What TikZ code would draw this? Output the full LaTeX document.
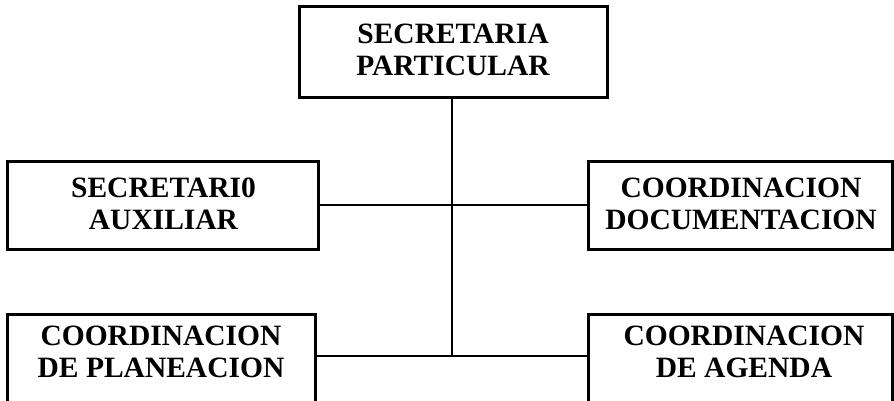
\documentclass[tikz,border=0pt]{standalone}
\usepackage{fontspec}
\setmainfont{Liberation Serif}
\begin{document}
\begin{tikzpicture}[x=1pt,y=-1pt,
  unit/.style={draw=black, line width=3pt, rectangle, inner sep=0pt},
  unittext/.style={align=center, font=\fontsize{29.5}{32}\selectfont\bfseries, inner sep=0pt},
  link/.style={draw=black, line width=2.7pt}]
  \useasboundingbox (0,0) rectangle (894,401);
  \clip (0,0) rectangle (894,401);

  % boxes
  \node[unit, minimum width=308pt, minimum height=91pt] (top) at (453,52.5) {};
  \node[unit, minimum width=311pt, minimum height=88pt] (ml) at (162.5,205) {};
  \node[unit, minimum width=304pt, minimum height=88pt] (mr) at (740,205) {};
  \node[unit, minimum width=308pt, minimum height=130pt] (bl) at (161,379) {};
  \node[unit, minimum width=304pt, minimum height=130pt] (br) at (740,379) {};

  % labels
  \node[unittext] (ttop) at ([yshift=3pt]top.center) {SECRETARIA\\PARTICULAR};
  \node[unittext] (tml) at ([xshift=1pt,yshift=1pt]ml.center) {SECRETARI0\\AUXILIAR};
  \node[unittext] (tmr) at ([xshift=1pt,yshift=1pt]mr.center) {COORDINACION\\DOCUMENTACION};
  \node[unittext] (tbl) at ([yshift=-39pt]bl.north) {COORDINACION\\DE PLANEACION};
  \node[unittext] (tbr) at ([xshift=4pt,yshift=-39pt]br.north) {COORDINACION\\DE AGENDA};

  % connectors
  \coordinate (j2) at (452,356);
  \draw[link] ([xshift=-1pt]top.south) -- (j2);
  \draw[link] (ml.east) -- (mr.west);
  \draw[link] (bl.east |- j2) -- (br.west |- j2);
\end{tikzpicture}
\end{document}
